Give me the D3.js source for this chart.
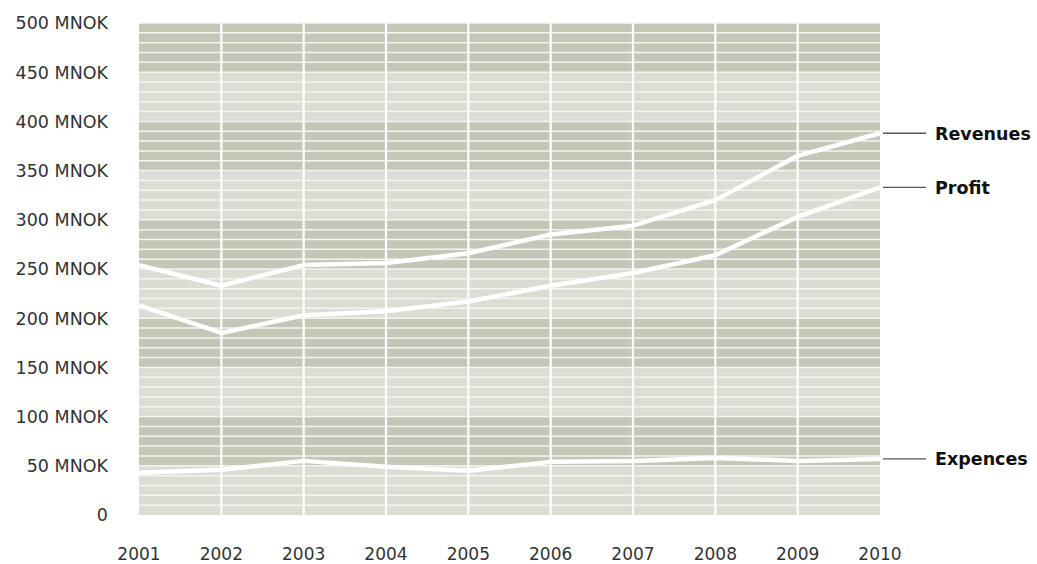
<!DOCTYPE html>
<html><head><meta charset="utf-8">
<script src="https://cdn.jsdelivr.net/npm/d3@7/dist/d3.min.js"></script>
<style>body{margin:0;background:#fff}svg{display:block}</style>
</head><body>
<script>
const years = [2001,2002,2003,2004,2005,2006,2007,2008,2009,2010];
const revenues = [254,233,254,256,266,285,294,320,365,388];
const profit   = [213,185,203,207,217,233,246,264,303,333];
const expences = [43,46,55,49,45,54,55,58,55,57];
const seriesNames = ["Revenues","Profit","Expences"];
const yTicks = [0,50,100,150,200,250,300,350,400,450,500];

const W=1037,H=564;
const svg=d3.select("body").append("svg").attr("width",W).attr("height",H);
const x=d3.scaleLinear().domain([2001,2010]).range([139,880]);
const y=d3.scaleLinear().domain([0,500]).range([515,23]);

const font="DejaVu Sans";
// bands
const bands=d3.range(0,500,50);
svg.selectAll("rect.band").data(bands).join("rect")
  .attr("x",x(2001)).attr("width",x(2010)-x(2001))
  .attr("y",d=>y(d+50)).attr("height",d=>y(d)-y(d+50))
  .attr("fill",(d,i)=>i%2===0?"#dcdcd4":"#c6c6b8");
// minor horizontal lines
svg.selectAll("line.h").data(d3.range(10,501,10)).join("line")
  .attr("x1",x(2001)).attr("x2",x(2010)).attr("y1",d=>y(d)).attr("y2",d=>y(d))
  .attr("stroke","#f4f4f0").attr("stroke-width",1.5);
// vertical lines
svg.selectAll("line.v").data(years.slice(1,-1)).join("line")
  .attr("x1",d=>x(d)).attr("x2",d=>x(d)).attr("y1",y(500)).attr("y2",y(0))
  .attr("stroke","#ffffff").attr("stroke-width",2.2);

// series
const data=[revenues,profit,expences];
const line=d3.line().x((d,i)=>x(years[i])).y(d=>y(d));
svg.selectAll("path.s").data(data).join("path")
  .attr("d",line).attr("fill","none").attr("stroke","#ffffff")
  .attr("stroke-width",4.5).attr("stroke-linejoin","round");

// leader lines and labels
data.forEach((s,k)=>{
  const v=s[s.length-1];
  svg.append("line").attr("x1",883).attr("x2",926).attr("y1",y(v)).attr("y2",y(v))
    .attr("stroke","#555").attr("stroke-width",1.4);
  svg.append("text").attr("x",935).attr("y",y(v)).attr("dy","0.36em")
    .attr("font-family",font).attr("font-weight","bold").attr("font-size",17.5)
    .attr("fill","#111").text(seriesNames[k]);
});

// y tick labels
svg.selectAll("text.yt").data(yTicks).join("text")
  .attr("x",108).attr("y",d=>y(d)).attr("dy","0.36em").attr("text-anchor","end")
  .attr("font-family",font).attr("font-size",17.5).attr("fill","#333")
  .text(d=>d===0?"0":d+" MNOK");
// x tick labels
svg.selectAll("text.xt").data(years).join("text")
  .attr("x",d=>x(d)).attr("y",560).attr("text-anchor","middle")
  .attr("font-family",font).attr("font-size",17).attr("fill","#333")
  .text(d=>d);
</script>
</body></html>
